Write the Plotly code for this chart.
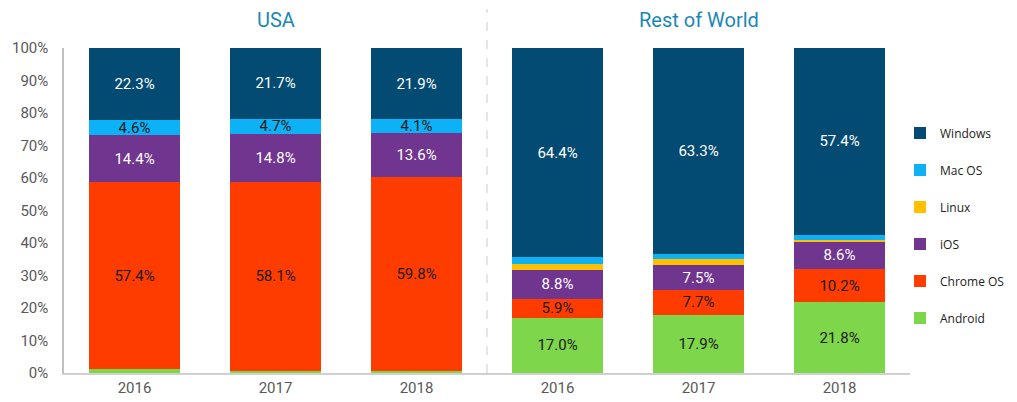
import plotly.graph_objects as go

x_labels = ["2016", "2017", "2018", "2016", "2017", "2018"]
groups = ["USA", "Rest of World"]

android = [1.3, 0.7, 0.6, 17.0, 17.9, 21.8]
chrome = [57.4, 58.1, 59.8, 5.9, 7.7, 10.2]
ios = [14.4, 14.8, 13.6, 8.8, 7.5, 8.6]
linux = [0.0, 0.0, 0.0, 1.8, 2.0, 0.3]
macos = [4.6, 4.7, 4.1, 2.1, 1.6, 1.7]
windows = [22.3, 21.7, 21.9, 64.4, 63.3, 57.4]

# which bar segments carry a value label
show_android = [False, False, False, True, True, True]
show_chrome = [True] * 6
show_ios = [True] * 6
show_linux = [False] * 6
show_macos = [True, True, True, False, False, False]
show_windows = [True] * 6

colors = {
    "Android": "#7ED64B",
    "Chrome OS": "#FF3C00",
    "iOS": "#70358F",
    "Linux": "#FFC000",
    "Mac OS": "#0DB1F5",
    "Windows": "#034B72",
}
text_colors = {
    "Android": "#1a1a1a",
    "Chrome OS": "#1a1a1a",
    "iOS": "#FFFFFF",
    "Linux": "#1a1a1a",
    "Mac OS": "#1a1a1a",
    "Windows": "#FFFFFF",
}

series = [
    ("Android", android, show_android),
    ("Chrome OS", chrome, show_chrome),
    ("iOS", ios, show_ios),
    ("Linux", linux, show_linux),
    ("Mac OS", macos, show_macos),
    ("Windows", windows, show_windows),
]

xpos = list(range(len(x_labels)))

fig = go.Figure()
n = len(series)
for i, (name, vals, show) in enumerate(series):
    fig.add_trace(go.Bar(
        x=xpos, y=vals, name=name,
        marker=dict(color=colors[name], line=dict(width=0)),
        width=0.645,
        text=[f"{v:.1f}%" if s else "" for v, s in zip(vals, show)],
        textposition="inside",
        insidetextanchor="middle",
        textangle=0,
        constraintext="none",
        textfont=dict(family="Roboto", size=15, color=text_colors[name]),
        legendgroup=name,
        legendrank=n - i,
        hoverinfo="skip",
    ))

fig.update_layout(
    barmode="stack",
    width=1009, height=394,
    margin=dict(l=56, r=107, t=40, b=29, autoexpand=False),
    paper_bgcolor="white", plot_bgcolor="white",
    font=dict(family="Roboto", color="#595959"),
    showlegend=True,
    legend=dict(
        traceorder="grouped", tracegroupgap=18,
        x=0.9882, xanchor="left", y=0.783, yanchor="top",
        font=dict(family="Open Sans", size=12, color="#222222"),
        itemwidth=30,
    ),
    xaxis=dict(
        range=[-0.5, 5.5], tickmode="array", tickvals=xpos, ticktext=x_labels,
        showline=True, linecolor="#D0D0D0", linewidth=1.5, showgrid=False,
        tickfont=dict(size=15, color="#595959"), ticks="",
        zeroline=False, automargin=False,
    ),
    yaxis=dict(
        range=[0, 100], dtick=10, ticksuffix="%",
        showline=True, linecolor="#BFBFBF", linewidth=1.5, showgrid=False,
        tickfont=dict(size=15, color="#595959"), ticks="", ticklabelstandoff=11,
        zeroline=False, automargin=False,
    ),
)

fig.add_shape(type="line", xref="x", yref="paper", x0=2.5, x1=2.5, y0=0, y1=1.12,
              line=dict(color="#CCCCCC", width=1, dash="dash"))

for gx, g in zip([1, 4], groups):
    fig.add_annotation(x=gx, xref="x", y=1.085, yref="paper", text=g, showarrow=False,
                       font=dict(family="Roboto", size=20, color="#1B87B5"),
                       yanchor="middle")

fig.write_html("out.html")
